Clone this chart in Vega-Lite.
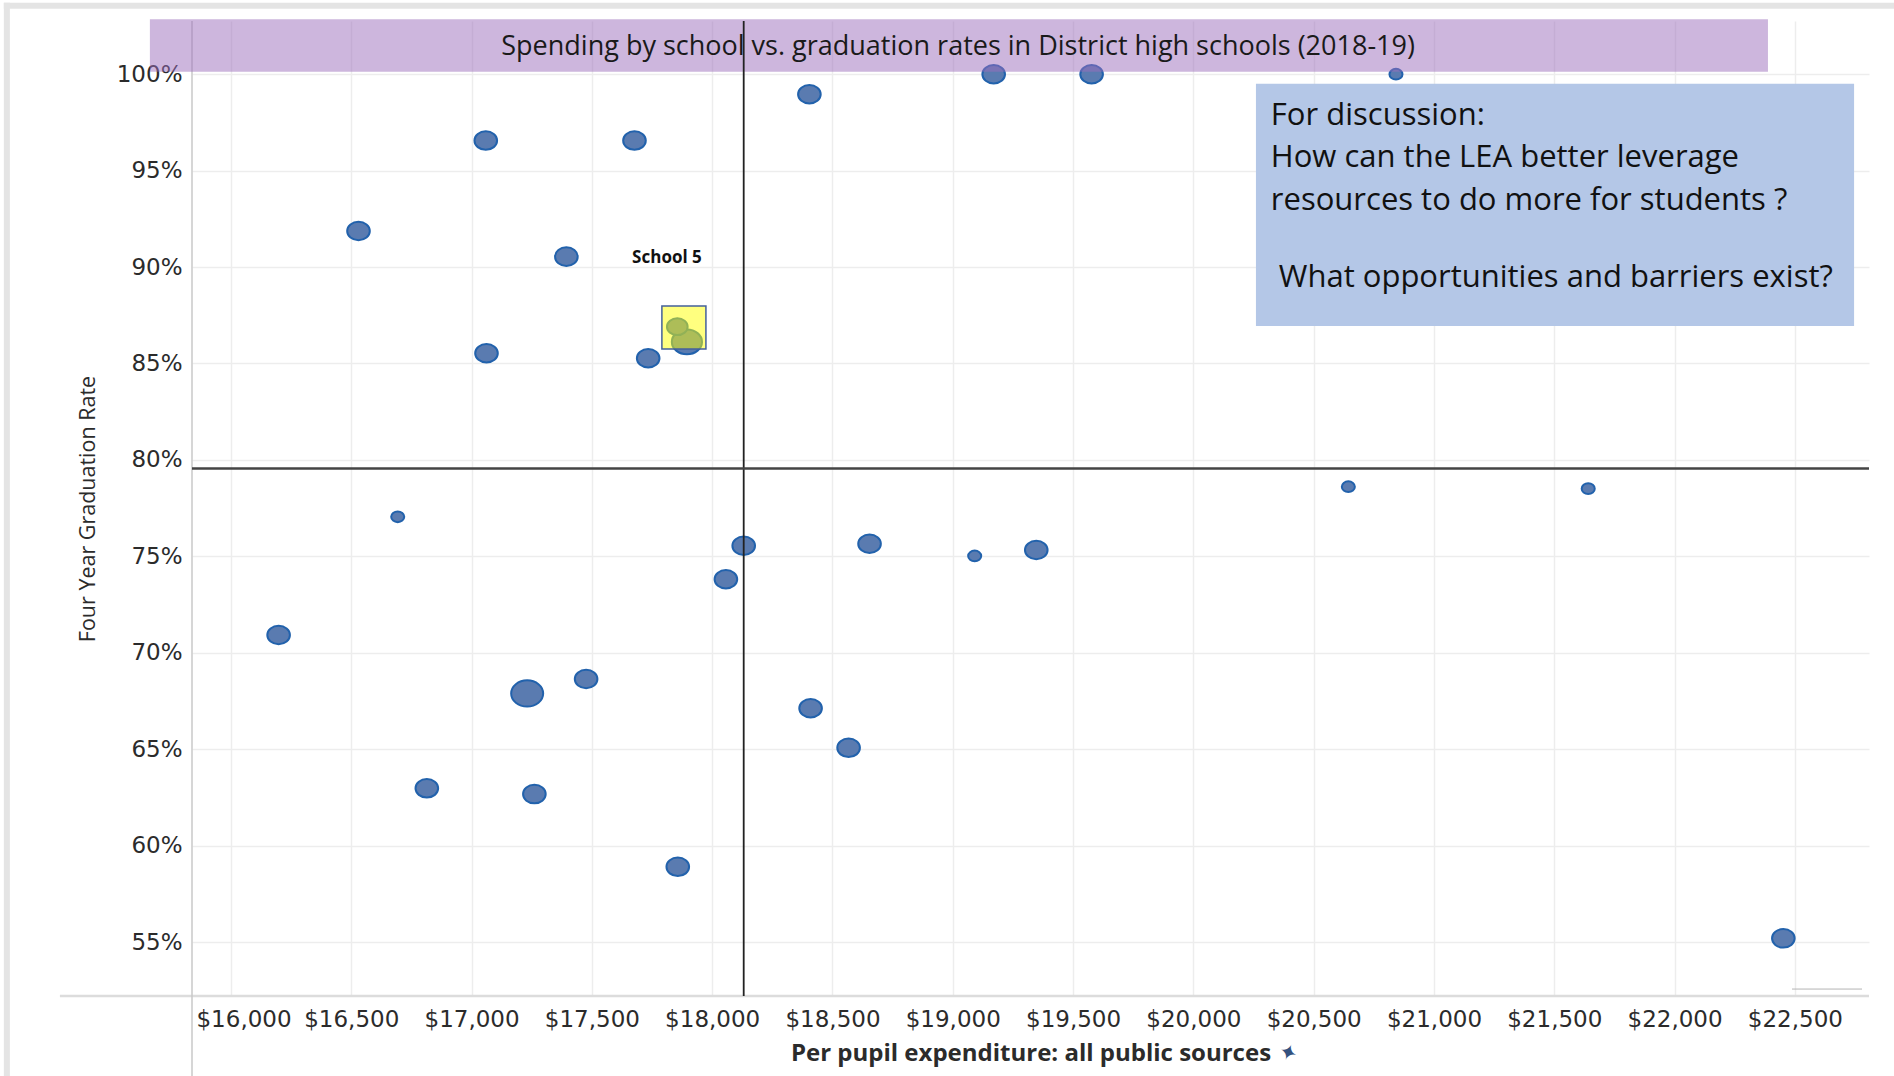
{
  "$schema": "https://vega.github.io/schema/vega-lite/v6.json",
  "width": 1677,
  "height": 975,
  "autosize": {"type": "none"},
  "padding": {"left": 192, "top": 21, "right": 25, "bottom": 80},
  "background": "white",
  "config": {"view": {"stroke": null}},
  "datasets": {
    "schools": [
      {"school": "School 1", "spending": 16530, "rate": 91.87, "enrollment": 900},
      {"school": "School 2", "spending": 17059, "rate": 96.56, "enrollment": 900},
      {"school": "School 3", "spending": 17677, "rate": 96.56, "enrollment": 900},
      {"school": "School 4", "spending": 17394, "rate": 90.54, "enrollment": 900},
      {"school": "School 6", "spending": 17062, "rate": 85.53, "enrollment": 900},
      {"school": "School 7", "spending": 17734, "rate": 85.27, "enrollment": 900},
      {"school": "School 8", "spending": 18404, "rate": 98.96, "enrollment": 900},
      {"school": "School 9", "spending": 19170, "rate": 100, "enrollment": 900},
      {"school": "School 10", "spending": 19577, "rate": 100, "enrollment": 900},
      {"school": "School 11", "spending": 20842, "rate": 100, "enrollment": 300},
      {"school": "School 12", "spending": 16693, "rate": 77.05, "enrollment": 300},
      {"school": "School 13", "spending": 16198, "rate": 70.92, "enrollment": 900},
      {"school": "School 14", "spending": 17231, "rate": 67.89, "enrollment": 1800},
      {"school": "School 15", "spending": 17476, "rate": 68.64, "enrollment": 900},
      {"school": "School 16", "spending": 16814, "rate": 62.97, "enrollment": 900},
      {"school": "School 17", "spending": 17261, "rate": 62.67, "enrollment": 900},
      {"school": "School 18", "spending": 17857, "rate": 58.9, "enrollment": 900},
      {"school": "School 19", "spending": 18131, "rate": 75.55, "enrollment": 900},
      {"school": "School 20", "spending": 18057, "rate": 73.81, "enrollment": 900},
      {"school": "School 21", "spending": 18654, "rate": 75.65, "enrollment": 900},
      {"school": "School 22", "spending": 19091, "rate": 75.02, "enrollment": 300},
      {"school": "School 23", "spending": 19347, "rate": 75.33, "enrollment": 900},
      {"school": "School 24", "spending": 20644, "rate": 78.61, "enrollment": 300},
      {"school": "School 25", "spending": 21641, "rate": 78.51, "enrollment": 300},
      {"school": "School 26", "spending": 18409, "rate": 67.12, "enrollment": 900},
      {"school": "School 27", "spending": 18567, "rate": 65.07, "enrollment": 900},
      {"school": "School 28", "spending": 22452, "rate": 55.19, "enrollment": 900},
      {"school": "School 5", "spending": 17895, "rate": 86.12, "enrollment": 1600},
      {"school": "School 29", "spending": 17855, "rate": 86.91, "enrollment": 750}
    ]
  },
  "layer": [
    {
      "data": {"name": "schools"},
      "mark": {
        "type": "point",
        "shape": "M-1,0A1,0.82,0,1,0,1,0A1,0.82,0,1,0,-1,0Z",
        "filled": true,
        "fill": "#5A7BB0",
        "stroke": "#2262AC",
        "strokeWidth": 2,
        "opacity": 1
      },
      "encoding": {
        "x": {
          "field": "spending",
          "type": "quantitative",
          "title": "Per pupil expenditure: all public sources",
          "scale": {"domain": [15838, 22808], "nice": false, "zero": false},
          "axis": {
            "values": [16000, 16500, 17000, 17500, 18000, 18500, 19000, 19500, 20000, 20500, 21000, 21500, 22000, 22500],
            "format": "$,.0f",
            "labelFont": "DejaVu Sans",
            "labelFontSize": 23,
            "labelColor": "#2B2B2B",
            "labelPadding": 12,
            "labelOverlap": false,
            "labelFlush": 45,
            "labelFlushOffset": 35,
            "labelBound": false,
            "ticks": false,
            "domain": false,
            "grid": true,
            "gridColor": "#EDEDED",
            "gridWidth": 1.5,
            "titleFont": "Open Sans",
            "titleFontSize": 24,
            "titleFontWeight": "bold",
            "titleColor": "#2B2B2B",
            "titlePadding": 10
          }
        },
        "y": {
          "field": "rate",
          "type": "quantitative",
          "title": "Four Year Graduation Rate",
          "scale": {"domain": [52.2, 102.76], "nice": false, "zero": false},
          "axis": {
            "values": [55, 60, 65, 70, 75, 80, 85, 90, 95, 100],
            "labelExpr": "datum.value + '%'",
            "labelFont": "DejaVu Sans",
            "labelFontSize": 23,
            "labelColor": "#2B2B2B",
            "labelPadding": 10,
            "ticks": false,
            "domain": false,
            "grid": true,
            "gridColor": "#EDEDED",
            "gridWidth": 1.5,
            "titleFont": "Open Sans",
            "titleFontSize": 21.5,
            "titleFontWeight": "normal",
            "titleColor": "#2B2B2B",
            "titlePadding": 17
          }
        },
        "size": {
          "field": "enrollment",
          "type": "quantitative",
          "scale": {"domain": [0, 1800], "range": [0, 1024]},
          "legend": null
        }
      }
    },
    {
      "data": {"values": [{}]},
      "mark": {"type": "rect", "fill": "#E4E4E4"},
      "encoding": {
        "x": {"datum": 15056},
        "x2": {"datum": 22912},
        "y": {"datum": 103.7},
        "y2": {"datum": 103.39}
      }
    },
    {
      "data": {"values": [{}]},
      "mark": {"type": "rect", "fill": "#E4E4E4"},
      "encoding": {
        "x": {"datum": 15056},
        "x2": {"datum": 15081},
        "y": {"datum": 103.7},
        "y2": {"datum": 48.05}
      }
    },
    {
      "data": {"values": [{}]},
      "mark": {"type": "rule", "stroke": "#DCDCDC", "strokeWidth": 2.5},
      "encoding": {
        "x": {"datum": 15289},
        "x2": {"datum": 22808},
        "y": {"datum": 52.2}
      }
    },
    {
      "data": {"values": [{}]},
      "mark": {"type": "rule", "stroke": "#C8C8C8", "strokeWidth": 1.5},
      "encoding": {
        "x": {"datum": 15838},
        "y": {"datum": 102.76},
        "y2": {"datum": 48.05}
      }
    },
    {
      "data": {"values": [{}]},
      "mark": {"type": "rule", "stroke": "#B4B4B4", "strokeWidth": 1},
      "encoding": {
        "x": {"datum": 22488},
        "x2": {"datum": 22779},
        "y": {"datum": 52.56}
      }
    },
    {
      "data": {"values": [{}]},
      "mark": {"type": "rect", "fill": "#9C6DBC", "opacity": 0.5},
      "encoding": {
        "x": {"datum": 15663},
        "x2": {"datum": 22388},
        "y": {"datum": 102.85},
        "y2": {"datum": 100.13}
      }
    },
    {
      "data": {"values": [{}]},
      "mark": {"type": "rule", "stroke": "#222222", "strokeWidth": 1.8},
      "encoding": {
        "x": {"datum": 18131}
      }
    },
    {
      "data": {"name": "schools"},
      "mark": {"type": "rule", "stroke": "#444444", "strokeWidth": 2.5},
      "encoding": {
        "y": {"aggregate": "mean", "field": "rate", "type": "quantitative", "title": "Four Year Graduation Rate"}
      }
    },
    {
      "data": {"values": [{}]},
      "mark": {"type": "rect", "fill": "#FFFF00", "fillOpacity": 0.5, "stroke": "#44609A", "strokeWidth": 1.5},
      "encoding": {
        "x": {"datum": 17791},
        "x2": {"datum": 17974},
        "y": {"datum": 87.98},
        "y2": {"datum": 85.75}
      }
    },
    {
      "data": {"values": [{}]},
      "mark": {"type": "rect", "fill": "#B4C7E7"},
      "encoding": {
        "x": {"datum": 20260},
        "x2": {"datum": 22746},
        "y": {"datum": 99.5},
        "y2": {"datum": 86.95}
      }
    },
    {
      "data": {"values": [{}]},
      "mark": {"type": "text", "text": "Spending by school vs. graduation rates in District high schools (2018-19)", "font": "Open Sans", "fontSize": 27, "fill": "#1A1A1A", "align": "center", "baseline": "alphabetic"},
      "encoding": {
        "x": {"datum": 19022},
        "y": {"datum": 101.0}
      }
    },
    {
      "data": {"values": [{}]},
      "mark": {"type": "text", "text": "For discussion:", "font": "Open Sans", "fontSize": 31, "fill": "#111111", "align": "left", "baseline": "alphabetic"},
      "encoding": {
        "x": {"datum": 20322},
        "y": {"datum": 97.37}
      }
    },
    {
      "data": {"values": [{}]},
      "mark": {"type": "text", "text": "How can the LEA better leverage", "font": "Open Sans", "fontSize": 31, "fill": "#111111", "align": "left", "baseline": "alphabetic"},
      "encoding": {
        "x": {"datum": 20322},
        "y": {"datum": 95.19}
      }
    },
    {
      "data": {"values": [{}]},
      "mark": {"type": "text", "text": "resources to do more for students ?", "font": "Open Sans", "fontSize": 31, "fill": "#111111", "align": "left", "baseline": "alphabetic"},
      "encoding": {
        "x": {"datum": 20322},
        "y": {"datum": 92.96}
      }
    },
    {
      "data": {"values": [{}]},
      "mark": {"type": "text", "text": "What opportunities and barriers exist?", "font": "Open Sans", "fontSize": 31, "fill": "#111111", "align": "left", "baseline": "alphabetic"},
      "encoding": {
        "x": {"datum": 20355},
        "y": {"datum": 88.97}
      }
    },
    {
      "data": {"values": [{}]},
      "mark": {"type": "text", "text": "School 5", "font": "Open Sans", "fontSize": 17, "fontWeight": "bold", "fill": "#111111", "align": "center", "baseline": "alphabetic"},
      "encoding": {
        "x": {"datum": 17812},
        "y": {"datum": 90.21}
      }
    },
    {
      "data": {"values": [{}]},
      "mark": {"type": "text", "text": "✦", "font": "DejaVu Sans", "fontSize": 22, "fill": "#34527F", "align": "center", "baseline": "middle", "angle": 20},
      "encoding": {
        "x": {"datum": 20393},
        "y": {"datum": 49.24}
      }
    }
  ]
}
